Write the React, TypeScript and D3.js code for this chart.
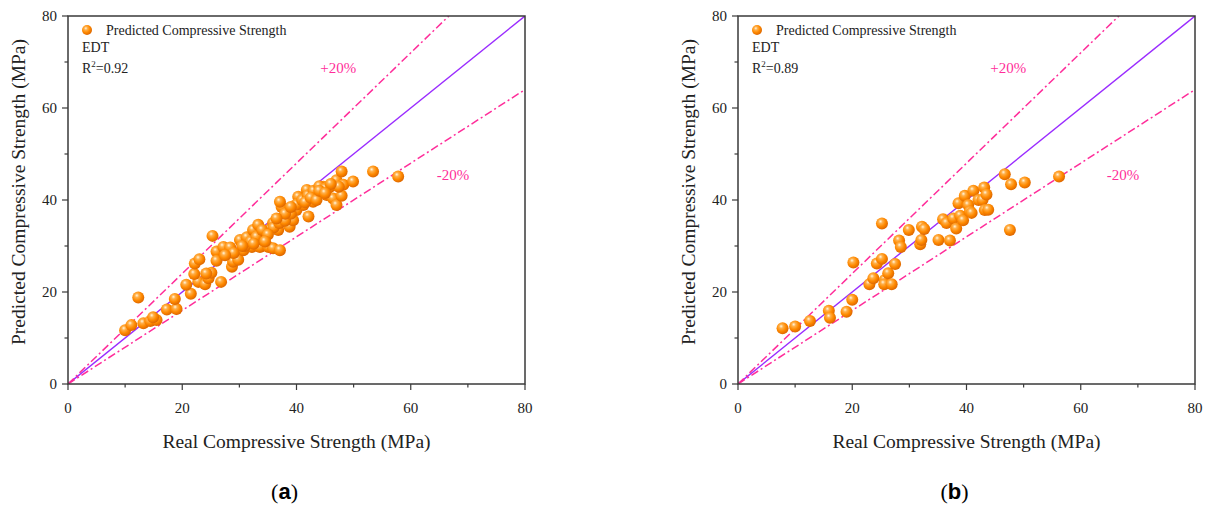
import { useRef, useEffect } from 'react';
import * as d3 from 'd3';

// Panel (a): real vs predicted compressive strength (MPa)
const realA = [
  10.0, 11.1, 12.3, 13.2, 14.4, 15.5, 14.9, 17.3, 19.0, 18.7, 21.5, 20.7, 22.8, 24.0, 24.6, 25.1,
  24.2, 26.8, 22.1, 22.2, 23.0, 25.3, 26.0, 26.0, 27.2, 28.7, 28.9, 29.8, 28.4, 30.1, 30.7, 31.3,
  32.2, 32.4, 33.3, 33.6, 34.1, 35.1, 35.1, 35.9, 35.9, 37.1, 36.8, 37.4, 37.1, 38.3, 38.8, 39.4,
  40.0, 40.3, 41.2, 42.1, 41.8, 42.9, 43.5, 44.7, 45.3, 45.9, 46.4, 47.0, 47.0, 47.9, 48.2, 47.9,
  47.4, 49.9, 53.4, 57.8, 31.0, 32.0, 33.0, 34.0, 36.0, 37.0, 38.0, 39.0, 40.0, 41.0, 42.0, 43.0,
  44.0, 45.0, 38.0, 39.0, 41.5, 42.5, 36.5, 35.0, 34.5, 32.5, 30.5, 29.0, 27.5, 43.5, 44.0, 46.0,
  45.0,
];
const predA = [
  11.7, 12.8, 18.8, 13.2, 13.7, 13.9, 14.5, 16.2, 16.3, 18.5, 19.6, 21.6, 22.2, 21.7, 23.0, 24.2,
  24.0, 22.2, 23.9, 26.2, 27.1, 32.2, 28.8, 26.8, 29.8, 25.5, 26.6, 27.0, 29.7, 31.3, 29.1, 31.9,
  29.8, 33.5, 34.6, 29.8, 31.3, 33.5, 29.8, 29.5, 35.0, 29.1, 33.5, 38.5, 39.6, 36.4, 34.2, 35.6,
  37.8, 40.7, 38.9, 36.4, 42.2, 39.6, 41.8, 42.9, 41.1, 42.9, 40.3, 38.9, 44.3, 46.2, 43.3, 40.9,
  42.9, 44.0, 46.2, 45.1, 30.0, 31.0, 32.0, 33.5, 34.0, 35.0, 35.5, 37.0, 39.0, 40.0, 41.0, 42.0,
  43.0, 42.5, 37.0, 38.5, 39.5, 40.5, 36.0, 32.5, 31.0, 30.5, 30.0, 28.5, 28.0, 40.0, 42.0, 43.5,
  41.5,
];

// Panel (b)
const realB = [
  7.8, 10.0, 12.6, 15.9, 16.1, 19.0, 20.0, 20.2, 23.0, 23.7, 24.3, 25.2, 25.2, 25.7, 25.6, 26.3,
  26.9, 27.5, 28.2, 28.5, 29.9, 31.9, 32.1, 32.2, 32.6, 35.1, 35.9, 36.5, 37.1, 37.7, 38.2, 38.6,
  38.9, 39.4, 39.7, 40.3, 40.6, 40.9, 41.2, 42.1, 42.8, 43.1, 43.2, 43.5, 43.8, 46.7, 47.8, 47.6,
  50.2, 56.2,
];
const predB = [
  12.1, 12.5, 13.7, 15.9, 14.4, 15.7, 18.3, 26.4, 21.7, 23.0, 26.2, 27.2, 34.9, 22.6, 21.7, 24.1,
  21.7, 26.1, 31.2, 29.8, 33.5, 30.4, 31.3, 34.2, 33.7, 31.3, 35.8, 35.0, 31.2, 36.0, 33.8, 39.3,
  36.6, 35.6, 40.9, 38.9, 37.5, 37.2, 42.0, 40.0, 40.0, 42.7, 37.8, 41.2, 37.9, 45.6, 43.4, 33.5,
  43.8, 45.1,
];

const majorTicks = [0, 20, 40, 60, 80];
const minorTicks = [10, 30, 50, 70];
const boundFactors = [1.2, 0.8];
const boundLabels = ['+20%', '-20%'];
const legendLabel = 'Predicted Compressive Strength';
const modelName = 'EDT';
const xTitle = 'Real Compressive Strength (MPa)';
const yTitle = 'Predicted Compressive Strength (MPa)';

const panels = [
  { id: 'a', left: 68, real: realA, pred: predA, r2: '0.92' },
  { id: 'b', left: 738, real: realB, pred: predB, r2: '0.89' },
];

const font = 'Liberation Serif';
const axisColor = '#3a3a3a';
const pink = '#ff2d9a';
const purple = '#9a2cff';

export default function App() {
  const svgRef = useRef<SVGSVGElement>(null);

  useEffect(() => {
    document.body.style.margin = '0';
    if (!svgRef.current) return;
    const svg = d3.select(svgRef.current);
    svg.selectAll('*').remove();

    const defs = svg.append('defs');
    const grad = defs
      .append('radialGradient')
      .attr('id', 'ball')
      .attr('cx', '40%')
      .attr('cy', '38%')
      .attr('r', '60%')
      .attr('fx', '38%')
      .attr('fy', '32%');
    grad.append('stop').attr('offset', '0%').attr('stop-color', '#fff6e0');
    grad.append('stop').attr('offset', '28%').attr('stop-color', '#ffb04a');
    grad.append('stop').attr('offset', '65%').attr('stop-color', '#ff8a00');
    grad.append('stop').attr('offset', '100%').attr('stop-color', '#e06a00');

    const top = 16;
    const bottom = 384;
    const w = 457;

    panels.forEach((p) => {
      const x = d3.scaleLinear().domain([0, 80]).range([p.left, p.left + w]);
      const y = d3.scaleLinear().domain([0, 80]).range([bottom, top]);
      const g = svg.append('g');

      const clipId = `clip-${p.id}`;
      defs
        .append('clipPath')
        .attr('id', clipId)
        .append('rect')
        .attr('x', p.left)
        .attr('y', top)
        .attr('width', w)
        .attr('height', bottom - top);

      // reference lines
      const lines = g.append('g').attr('clip-path', `url(#${clipId})`);
      lines
        .append('line')
        .attr('x1', x(0))
        .attr('y1', y(0))
        .attr('x2', x(80))
        .attr('y2', y(80))
        .attr('stroke', purple)
        .attr('stroke-width', 1.4);
      boundFactors.forEach((f) => {
        const xe = Math.min(80, 80 / f);
        lines
          .append('line')
          .attr('x1', x(0))
          .attr('y1', y(0))
          .attr('x2', x(xe))
          .attr('y2', y(xe * f))
          .attr('stroke', pink)
          .attr('stroke-width', 1.5)
          .attr('stroke-dasharray', '8 3 2 3');
      });

      // points
      g.append('g')
        .selectAll('circle')
        .data(p.real.map((r, i) => [r, p.pred[i]]))
        .enter()
        .append('circle')
        .attr('cx', (d) => x(d[0]))
        .attr('cy', (d) => y(d[1]))
        .attr('r', 6)
        .attr('fill', 'url(#ball)');

      // frame
      g.append('rect')
        .attr('x', p.left)
        .attr('y', top)
        .attr('width', w)
        .attr('height', bottom - top)
        .attr('fill', 'none')
        .attr('stroke', axisColor)
        .attr('stroke-width', 1.5);

      // ticks
      const tk = g.append('g').attr('stroke', axisColor).attr('stroke-width', 1.2);
      majorTicks.forEach((t) => {
        tk.append('line').attr('x1', x(t)).attr('x2', x(t)).attr('y1', bottom).attr('y2', bottom + 6);
        tk.append('line').attr('y1', y(t)).attr('y2', y(t)).attr('x1', p.left).attr('x2', p.left - 6);
      });
      minorTicks.forEach((t) => {
        tk.append('line').attr('x1', x(t)).attr('x2', x(t)).attr('y1', bottom).attr('y2', bottom + 3.5);
        tk.append('line').attr('y1', y(t)).attr('y2', y(t)).attr('x1', p.left).attr('x2', p.left - 3.5);
      });

      const txt = g.append('g').style('font-family', font).attr('fill', '#222');
      majorTicks.forEach((t) => {
        txt
          .append('text')
          .attr('x', x(t))
          .attr('y', bottom + 29)
          .attr('text-anchor', 'middle')
          .attr('font-size', 15)
          .text(t);
        txt
          .append('text')
          .attr('x', p.left - 11)
          .attr('y', y(t) + 5)
          .attr('text-anchor', 'end')
          .attr('font-size', 15)
          .text(t);
      });

      // axis titles
      txt
        .append('text')
        .attr('x', p.left + w / 2)
        .attr('y', 448)
        .attr('text-anchor', 'middle')
        .attr('font-size', 19.5)
        .text(xTitle);
      txt
        .append('text')
        .attr('transform', `translate(${p.left - 43},${(top + bottom) / 2 - 8}) rotate(-90)`)
        .attr('text-anchor', 'middle')
        .attr('font-size', 19.5)
        .text(yTitle);

      // legend
      g.append('circle').attr('cx', p.left + 19).attr('cy', 30).attr('r', 5).attr('fill', 'url(#ball)');
      txt
        .append('text')
        .attr('x', p.left + 38)
        .attr('y', 35)
        .attr('font-size', 14)
        .text(legendLabel);
      txt
        .append('text')
        .attr('x', p.left + 14)
        .attr('y', 52)
        .attr('font-size', 14)
        .text(modelName);
      const r2 = txt.append('text').attr('x', p.left + 14).attr('y', 73).attr('font-size', 14);
      r2.append('tspan').text('R');
      r2.append('tspan').attr('font-size', 9).attr('dy', -6).text('2');
      r2.append('tspan').attr('dy', 6).text(`=${p.r2}`);

      // bound labels
      const labelPos = [
        [47.3, 68.8],
        [67.4, 45.4],
      ];
      boundLabels.forEach((l, i) => {
        txt
          .append('text')
          .attr('x', x(labelPos[i][0]))
          .attr('y', y(labelPos[i][1]) + 5)
          .attr('text-anchor', 'middle')
          .attr('font-size', 15)
          .attr('fill', pink)
          .text(l);
      });

      // panel label
      const pl = txt
        .append('text')
        .attr('x', p.left + w / 2 - 12)
        .attr('y', 499)
        .attr('text-anchor', 'middle')
        .attr('font-size', 22)
        .attr('fill', '#000');
      pl.append('tspan').text('(');
      pl.append('tspan').attr('font-weight', 'bold').style('font-family', 'Liberation Sans').text(p.id);
      pl.append('tspan').text(')');
    });
  }, []);

  return <svg ref={svgRef} width={1213} height={514} style={{ display: 'block', background: '#fff' }} />;
}
